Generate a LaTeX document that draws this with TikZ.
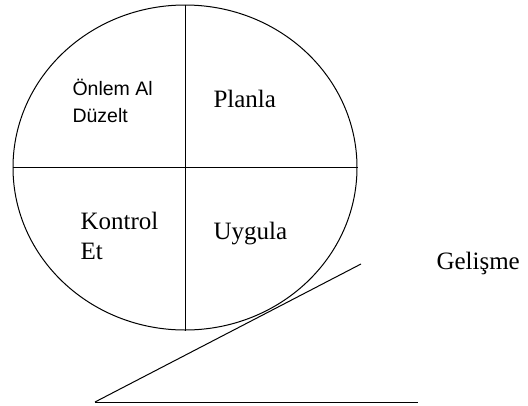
\documentclass[tikz,border=0pt]{standalone}
\usepackage{fontspec}
\setmainfont{Liberation Serif}
\newfontfamily\labelsans{Liberation Sans}
\usetikzlibrary{shapes.geometric}
\begin{document}
\begin{tikzpicture}[x=1pt,y=-1pt,line width=1pt,
  seriflabel/.style={inner sep=0pt,anchor=base west,font=\fontsize{25}{30}\selectfont},
  sanslabel/.style={inner sep=0pt,anchor=base west,font=\labelsans\fontsize{19.5}{24}\selectfont}]
  \useasboundingbox (0,0) rectangle (528,405);
  % PDCA cycle split into four quarters
  \node[draw,ellipse,minimum width=344pt,minimum height=325pt,inner sep=0pt] (cycle) at (185,167.5) {};
  \draw (cycle.north) -- (cycle.south);
  \draw (cycle.west) -- (cycle.east);
  % quarter labels
  \node[sanslabel] (act1) at (72,95) {Önlem Al};
  \node[sanslabel] (act2) at (72,122) {Düzelt};
  \node[seriflabel] (plan) at (213,107) {Planla};
  \node[seriflabel] (check1) at (80,229) {Kontrol};
  \node[seriflabel] (check2) at (80,259) {Et};
  \node[seriflabel] (do) at (213,239) {Uygula};
  % improvement ramp
  \coordinate (rampbase) at (95,402);
  \coordinate (ramptop) at (361,264);
  \coordinate (rampend) at (418,402);
  \draw (rampbase) -- (ramptop);
  \draw (rampbase) -- (rampend);
  \node[seriflabel] (gain) at (436,269) {Gelişme};
\end{tikzpicture}
\end{document}
